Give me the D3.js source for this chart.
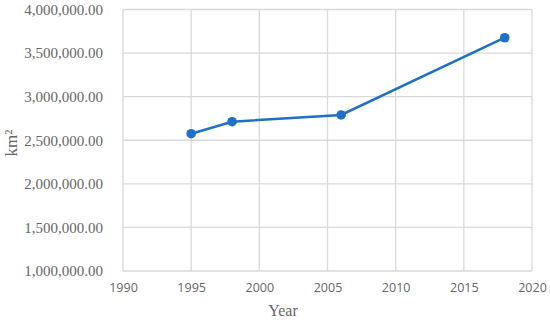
<!DOCTYPE html>
<html lang="en">
<head>
    <meta charset="UTF-8">
    <title>Area by year</title>
    <script src="https://d3js.org/d3.v7.min.js"></script>
    <style>
        body { margin: 0; background: #fff; }
    </style>
</head>
<body>
    <div id="chart"></div>

    <script>
        // data
        const years = [1995, 1998, 2006, 2018];
        const area = [2575000, 2713000, 2790000, 3676000];
        const xTicks = [1990, 1995, 2000, 2005, 2010, 2015, 2020];
        const yTicks = [1000000, 1500000, 2000000, 2500000, 3000000, 3500000, 4000000];

        const width = 550;
        const height = 325;
        const margin = { top: 9.5, right: 18, bottom: 54, left: 123 };

        const svg = d3.select("#chart")
            .append("svg")
            .attr("width", width)
            .attr("height", height);

        const x = d3.scaleLinear()
            .domain([1990, 2020])
            .range([margin.left, width - margin.right]);

        const y = d3.scaleLinear()
            .domain([1000000, 4000000])
            .range([height - margin.bottom, margin.top]);

        // grid
        const grid = svg.append("g").attr("stroke", "#d9d9d9").attr("stroke-width", 1.3);
        grid.selectAll(".gy")
            .data(yTicks)
            .join("line")
            .attr("x1", margin.left)
            .attr("x2", width - margin.right)
            .attr("y1", d => y(d))
            .attr("y2", d => y(d));
        grid.selectAll(".gx")
            .data(xTicks)
            .join("line")
            .attr("x1", d => x(d))
            .attr("x2", d => x(d))
            .attr("y1", margin.top)
            .attr("y2", height - margin.bottom);

        // y axis labels
        const yAxis = svg.append("g")
            .attr("transform", `translate(${margin.left},0)`)
            .call(d3.axisLeft(y).tickValues(yTicks).tickSize(0).tickPadding(20)
                .tickFormat(d3.format(",.2f")));
        yAxis.select(".domain").remove();
        yAxis.selectAll("text")
            .attr("font-family", "'Liberation Serif', serif")
            .attr("font-size", 15)
            .attr("fill", "#666");

        // x axis labels
        const xAxis = svg.append("g")
            .attr("transform", `translate(0,${height - margin.bottom})`)
            .call(d3.axisBottom(x).tickValues(xTicks).tickSize(0).tickPadding(12)
                .tickFormat(d3.format("d")));
        xAxis.select(".domain").remove();
        xAxis.selectAll("text")
            .attr("font-family", "'Open Sans', sans-serif")
            .attr("font-size", 12.5)
            .attr("fill", "#666");

        // line + markers
        const pts = years.map((yr, i) => [yr, area[i]]);
        svg.append("path")
            .datum(pts)
            .attr("fill", "none")
            .attr("stroke", "#1f70c8")
            .attr("stroke-width", 2.5)
            .attr("d", d3.line().x(d => x(d[0])).y(d => y(d[1])));

        svg.selectAll("circle")
            .data(pts)
            .join("circle")
            .attr("cx", d => x(d[0]))
            .attr("cy", d => y(d[1]))
            .attr("r", 4.8)
            .attr("fill", "#1f70c8");

        // axis titles
        svg.append("text")
            .attr("x", 283)
            .attr("y", 316)
            .attr("text-anchor", "middle")
            .attr("font-family", "'Liberation Serif', serif")
            .attr("font-size", 16)
            .attr("fill", "#666")
            .text("Year");

        svg.append("text")
            .attr("transform", "translate(17,143) rotate(-90)")
            .attr("text-anchor", "middle")
            .attr("font-family", "'Liberation Serif', serif")
            .attr("font-size", 17)
            .attr("fill", "#666")
            .text("km²");
    </script>
</body>
</html>
